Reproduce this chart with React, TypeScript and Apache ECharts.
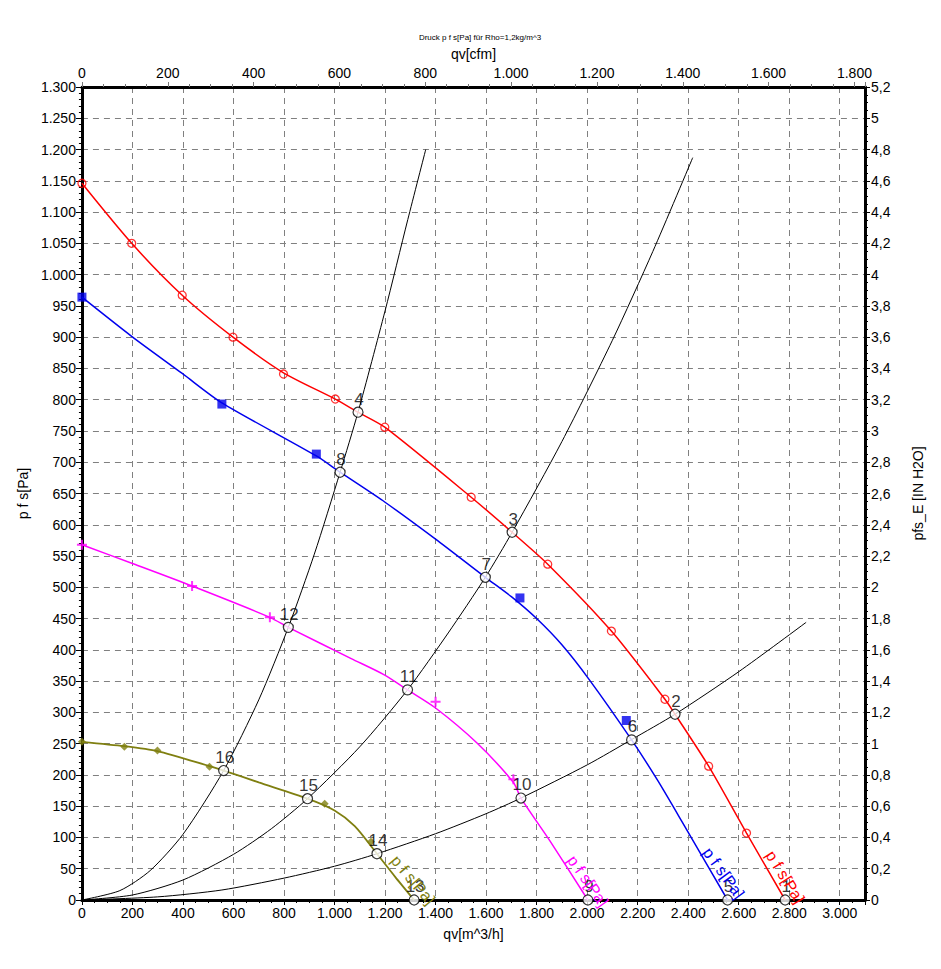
import React, { useEffect, useRef } from "react";
import * as echarts from "echarts";

// ---- data ----
const chartTitle = "Druck p f s[Pa] für Rho=1,2kg/m^3";
const M3H_PER_CFM = 1.699;
const PA_PER_INH2O = 250;
const flowMax = 3100; // m^3/h
const pressureMax = 1300; // Pa

// fan curves [qv m^3/h, pfs Pa]
const redCurve = [[0,1146],[197,1050],[397,967],[598,900],[798,843],[1003,801],[1093,780],[1199,756],[1541,644],[1703,588],[1844,537],[2096,430],[2308,321],[2348,297],[2481,214],[2631,107],[2784,0]];
const blueCurve = [[0,964],[198,901],[397,842],[554,795],[928,710],[1022,684],[1200,636],[1400,577],[1597,516],[1700,485],[1800,450],[1900,408],[2009,352],[2176,256],[2278,192],[2376,125],[2556,0]];
const magentaCurve = [[0,568],[200,538],[436,502],[744,452],[817,436],[1066,386],[1197,360],[1289,336],[1400,307],[1564,251],[1708,188],[1738,163],[1852,95],[2003,0]];
const oliveCurve = [[0,253],[168,246],[299,238],[505,214],[561,207],[700,188],[893,162],[1000,143],[1080,118],[1168,74],[1240,37],[1315,0]];

// measured markers
const redMarkers = [[0,1146],[197,1050],[397,967],[598,900],[798,841],[1003,801],[1199,756],[1541,644],[1844,537],[2096,430],[2308,321],[2481,214],[2631,107]];
const blueMarkers = [[0,964],[554,793],[928,713],[1734,483],[2155,287]];
const magentaMarkers = [[0,568],[436,502],[744,452],[1400,317],[1708,193]];
const oliveMarkers = [[0,253],[168,245],[299,239],[505,213],[961,154],[1144,93]];

// system curves
const sysA = [[0,0],[150,15],[270,47],[400,105],[561,207],[700,320],[817,436],[920,553],[1022,684],[1093,780],[1200,942],[1290,1088],[1361,1200]];
const sysB = [[0,0],[200,8],[400,32],[600,73],[750,114],[893,162],[1100,245],[1289,336],[1450,427],[1597,516],[1703,588],[1900,733],[2100,895],[2260,1037],[2418,1187]];
const sysC = [[0,0],[300,5],[554,16],[800,35],[1000,54],[1168,74],[1400,106],[1600,138],[1738,163],[2000,216],[2178,257],[2348,297],[2600,365],[2867,444]];

// operating points [label, qv, pfs]
const opPoints: [string, number, number][] = [
  ["1",2784,0],["2",2348,297],["3",1703,588],["4",1093,780],["5",2556,0],["6",2176,256],["7",1597,516],["8",1022,684],
  ["9",2003,0],["10",1738,163],["11",1289,336],["12",817,436],["13",1315,0],["14",1168,74],["15",893,162],["16",561,207],
];

const curveLabelText = "p f s[Pa]";

const FONT = "'Liberation Sans', Arial, sans-serif";
const RED = "#ff0000";
const BLUE = "#0000ee";
const MAGENTA = "#ff00ff";
const OLIVE = "#7f7f10";

const fmtDot = (v: number) => {
  const r = Math.round(v);
  if (r >= 1000) return Math.floor(r / 1000) + "." + String(r % 1000).padStart(3, "0");
  return String(r);
};
const fmtComma = (v: number) => String(Math.round(v * 10) / 10).replace(".", ",");

const gridDash = { show: true, lineStyle: { color: "#808080", width: 1, type: [6, 5] as any } };

export default function App() {
  const ref = useRef<HTMLDivElement>(null);
  useEffect(() => {
    const chart = echarts.init(ref.current!, null, { renderer: "svg" });
    const lineSeries = (data: number[][], color: string, width: number, z: number) => ({
      type: "line",
      data,
      smooth: 0.25,
      showSymbol: false,
      symbol: "none",
      lineStyle: { color, width },
      z,
      silent: true,
    });
    const markerSeries = (data: number[][], symbol: string, size: number, item: any) => ({
      type: "scatter",
      data,
      symbol,
      symbolSize: size,
      itemStyle: item,
      clip: false,
      z: 5,
      silent: true,
    });
    const option: any = {
      animation: false,
      textStyle: { fontFamily: FONT },
      grid: { left: 71, right: 66, top: 79, bottom: 61, containLabel: false },
      xAxis: [
        {
          type: "value", position: "bottom", min: 0, max: flowMax, interval: 200,
          name: "qv[m^3/h]", nameLocation: "middle", nameGap: 27,
          nameTextStyle: { color: "#000", fontSize: 14, fontFamily: FONT },
          axisLine: { onZero: false, lineStyle: { color: "#000", width: 3 } },
          axisTick: { show: true, length: 5, lineStyle: { color: "#000" } },
          minorTick: { show: true, splitNumber: 4, length: 3, lineStyle: { color: "#000" } },
          axisLabel: { color: "#000", fontSize: 14, margin: 6, formatter: fmtDot, showMaxLabel: false, fontFamily: FONT },
          splitLine: gridDash,
        },
        {
          type: "value", position: "top", min: 0, max: flowMax / M3H_PER_CFM, interval: 200,
          name: "qv[cfm]", nameLocation: "middle", nameGap: 18,
          nameTextStyle: { color: "#000", fontSize: 14, fontFamily: FONT },
          axisLine: { onZero: false, lineStyle: { color: "#000", width: 3 } },
          axisTick: { show: true, length: 5, lineStyle: { color: "#777" } },
          minorTick: { show: true, splitNumber: 4, length: 3, lineStyle: { color: "#777" } },
          axisLabel: { color: "#000", fontSize: 14, margin: 7, formatter: fmtDot, showMaxLabel: false, fontFamily: FONT },
          splitLine: { show: false },
        },
      ],
      yAxis: [
        {
          type: "value", position: "left", min: 0, max: pressureMax, interval: 50,
          name: "p f s[Pa]", nameLocation: "middle", nameGap: 50, nameRotate: 90,
          nameTextStyle: { color: "#000", fontSize: 14, fontFamily: FONT },
          axisLine: { onZero: false, lineStyle: { color: "#000", width: 3 } },
          axisTick: { show: true, length: 6, lineStyle: { color: "#000" } },
          minorTick: { show: true, splitNumber: 5, length: 3, lineStyle: { color: "#000" } },
          axisLabel: { color: "#000", fontSize: 14, margin: 6, formatter: fmtDot, fontFamily: FONT },
          splitLine: gridDash,
        },
        {
          type: "value", position: "right", min: 0, max: pressureMax / PA_PER_INH2O, interval: 0.2,
          name: "pfs_E [IN H2O]", nameLocation: "middle", nameGap: 46, nameRotate: 90,
          nameTextStyle: { color: "#000", fontSize: 14, fontFamily: FONT },
          axisLine: { onZero: false, lineStyle: { color: "#000", width: 3 } },
          axisTick: { show: true, length: 5, lineStyle: { color: "#000" } },
          minorTick: { show: true, splitNumber: 4, length: 3, lineStyle: { color: "#000" } },
          axisLabel: { color: "#000", fontSize: 14, margin: 6, formatter: fmtComma, fontFamily: FONT },
          splitLine: { show: false },
        },
      ],
      series: [
        lineSeries(sysA, "#000", 1, 2),
        lineSeries(sysB, "#000", 1, 2),
        lineSeries(sysC, "#000", 1, 2),
        lineSeries(redCurve, RED, 1.5, 3),
        lineSeries(blueCurve, BLUE, 1.5, 3),
        lineSeries(magentaCurve, MAGENTA, 1.5, 3),
        lineSeries(oliveCurve, OLIVE, 1.8, 3),
        markerSeries(redMarkers, "circle", 8, { color: "rgba(255,255,255,0)", borderColor: RED, borderWidth: 1.3 }),
        markerSeries(blueMarkers, "rect", 9, { color: BLUE }),
        markerSeries(magentaMarkers, "path://M4,0H6V4H10V6H6V10H4V6H0V4H4Z", 10, { color: MAGENTA }),
        markerSeries(oliveMarkers, "diamond", 8, { color: OLIVE }),
        {
          type: "scatter",
          data: opPoints.map(([n, q, p]) => ({ name: n, value: [q, p] })),
          symbol: "circle",
          symbolSize: 10,
          itemStyle: { color: "#fff", borderColor: "#000", borderWidth: 1.2 },
          label: {
            show: true, position: "top", distance: 0, offset: [1, 1],
            formatter: (d: any) => d.name, color: "#000", fontSize: 17, fontFamily: FONT,
            textBorderWidth: 0,
          },
          clip: false,
          z: 10,
          silent: true,
        },
      ],
      graphic: [
        { type: "text", x: 472, y: 29, style: { text: chartTitle, fontSize: 8, fontFamily: FONT, fill: "#000", align: "center", verticalAlign: "middle" } },
      ],
    };
    chart.setOption(option);

    const curveLabels: { end: number[]; color: string; dx: number; dy: number; rot: number }[] = [
      { end: redCurve[redCurve.length - 1], color: RED, dx: 0, dy: -23, rot: -58 },
      { end: blueCurve[blueCurve.length - 1], color: BLUE, dx: -4, dy: -27, rot: -54 },
      { end: magentaCurve[magentaCurve.length - 1], color: MAGENTA, dx: 0, dy: -19, rot: -55 },
      { end: oliveCurve[oliveCurve.length - 1], color: OLIVE, dx: -1, dy: -20, rot: -50 },
    ];
    const extra = curveLabels.map((c) => {
      const px = chart.convertToPixel({ xAxisIndex: 0, yAxisIndex: 0 } as any, c.end) as number[];
      return {
        type: "text",
        x: px[0] + c.dx,
        y: px[1] + c.dy,
        rotation: (c.rot * Math.PI) / 180,
        z: 20,
        style: { text: curveLabelText, fontSize: 16, fontFamily: FONT, fill: c.color, align: "center", verticalAlign: "middle" },
      };
    });
    chart.setOption({ graphic: [option.graphic[0], ...extra] });
    return () => chart.dispose();
  }, []);
  return <div ref={ref} style={{ width: 925, height: 953 }} />;
}
